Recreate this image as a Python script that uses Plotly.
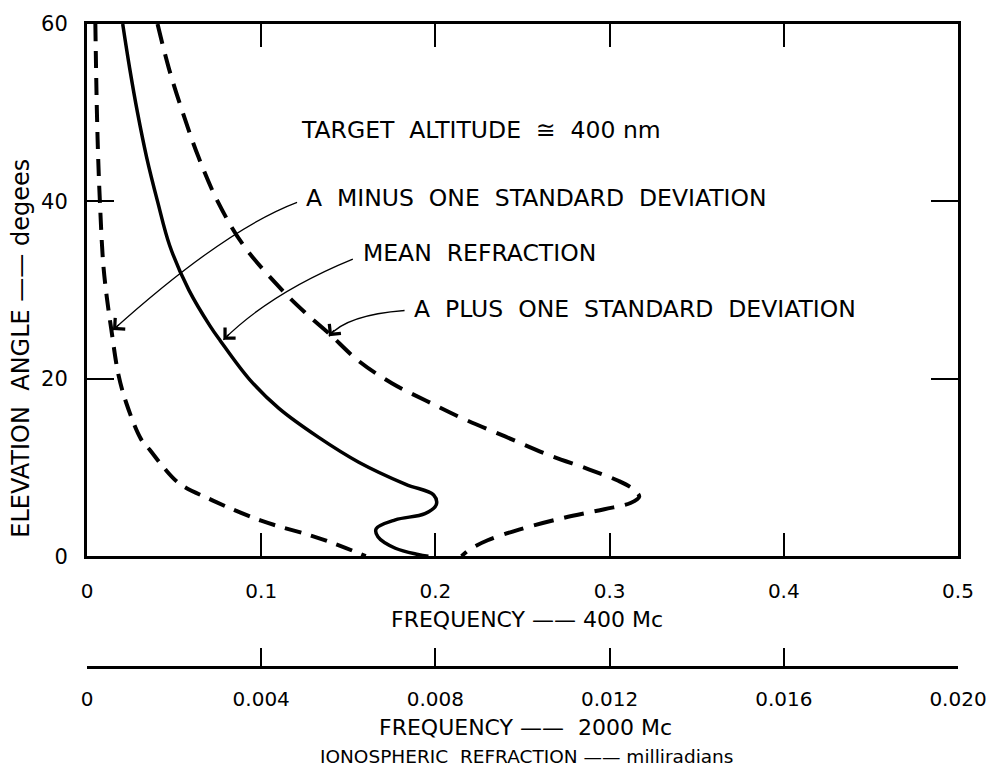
import plotly.graph_objects as go

# ---------------- data ----------------
# Mean refraction (solid), x = refraction at 400 Mc (mrad), y = elevation (deg)
mean_x = [0.0205, 0.0245, 0.0290, 0.0342, 0.0405, 0.0475, 0.0585, 0.0705, 0.0765, 0.093,
          0.110, 0.133, 0.156, 0.183, 0.199, 0.2005, 0.194, 0.177, 0.166, 0.167,
          0.177, 0.190, 0.196]
mean_y = [60, 55, 50, 45, 40, 35, 30, 26, 24.3, 20,
          16.7, 13.4, 10.6, 8.1, 6.9, 5.8, 4.8, 4.1, 3.1, 2.2,
          0.9, 0.2, 0]

# Mean plus one standard deviation (dashed, right)
plus_x = [0.0405, 0.047, 0.055, 0.064, 0.075, 0.090, 0.112, 0.125, 0.139, 0.156,
          0.175, 0.195, 0.216, 0.240, 0.264, 0.288, 0.305, 0.314, 0.317, 0.312,
          0.297, 0.273, 0.248, 0.230, 0.220, 0.215]
plus_y = [60, 55, 50, 45, 40, 35, 30, 27.5, 25.1, 22,
          19.5, 17.5, 15.5, 13.5, 11.5, 9.8, 8.5, 7.5, 6.7, 6.0,
          5.3, 4.3, 3.0, 1.8, 0.8, 0]

# Mean minus one standard deviation (dashed, left)
minus_x = [0.0048, 0.0052, 0.0057, 0.0064, 0.0074, 0.0093, 0.0115, 0.014, 0.018,
           0.0225, 0.031, 0.036, 0.044, 0.053, 0.072, 0.100, 0.129, 0.145, 0.160]
minus_y = [60, 55, 50, 45, 40, 33, 29, 25.5, 20.5,
           17.3, 13.2, 12.0, 10, 8.2, 6.3, 4.0, 2.3, 1.2, 0]

x1_ticks = [0, 0.1, 0.2, 0.3, 0.4, 0.5]
x1_labels = ["0", "0.1", "0.2", "0.3", "0.4", "0.5"]
x2_ticks = [0, 0.004, 0.008, 0.012, 0.016, 0.020]
x2_labels = ["0", "0.004", "0.008", "0.012", "0.016", "0.020"]
y_ticks = [0, 20, 40, 60]
y_labels = ["0", "20", "40", "60"]

SP = "\u00a0\u00a0"
label_title = "TARGET" + SP + "ALTITUDE" + SP + "\u2245" + SP + "400 nm"
label_minus = "A" + SP + "MINUS" + SP + "ONE" + SP + "STANDARD" + SP + "DEVIATION"
label_mean = "MEAN" + SP + "REFRACTION"
label_plus = "A" + SP + "PLUS" + SP + "ONE" + SP + "STANDARD" + SP + "DEVIATION"

# label anchors (data coords) and curved leader arrows: start, control, tip
labels = [
    (label_title, 0.1217, 48.1),
    (label_minus, 0.1246, 40.4),
    (label_mean, 0.1573, 34.2),
    (label_plus, 0.1863, 27.9),
]
arrows = [
    ((0.1206, 39.9), (0.0789, 36.8), (0.0149, 25.5)),
    ((0.1526, 33.5), (0.1054, 29.7), (0.0783, 24.4)),
    ((0.1823, 27.7), (0.1488, 27.2), (0.1389, 24.8)),
]

FONT = "DejaVu Sans"

fig = go.Figure()
fig.add_trace(go.Scatter(x=minus_x, y=minus_y, mode="lines",
                         line=dict(color="black", width=4, dash="17px,10px", shape="spline", smoothing=1.0),
                         hoverinfo="skip", showlegend=False))
fig.add_trace(go.Scatter(x=mean_x, y=mean_y, mode="lines",
                         line=dict(color="black", width=3.5, shape="spline", smoothing=1.0),
                         hoverinfo="skip", showlegend=False))
fig.add_trace(go.Scatter(x=plus_x, y=plus_y, mode="lines",
                         line=dict(color="black", width=4, dash="20px,11px", shape="spline", smoothing=1.0),
                         hoverinfo="skip", showlegend=False))
# invisible trace to activate the second x axis
fig.add_trace(go.Scatter(x=[x2_ticks[0], x2_ticks[-1]], y=[0, 0], xaxis="x2", mode="lines",
                         line=dict(color="rgba(0,0,0,0)"), hoverinfo="skip", showlegend=False))

# plot geometry in pixels
L, R, T, B = 87, 962, 17, 555
X2LINE = 667
W, H = 999, 775
px_per_x = (R - L) / 0.5
px_per_y = (B - T) / 60.0

for (text, lx, ly) in labels:
    fig.add_annotation(x=lx, y=ly, xref="x", yref="y", text=text, showarrow=False,
                       xanchor="left", yanchor="middle",
                       font=dict(family=FONT, size=23.5, color="black"))

for (p0, c, p2) in arrows:
    path = f"M {p0[0]},{p0[1]} Q {c[0]},{c[1]} {p2[0]},{p2[1]}"
    fig.add_shape(type="path", path=path, xref="x", yref="y",
                  line=dict(color="black", width=1.3))
    # arrowhead along the end tangent
    dxp = (p2[0] - c[0]) * px_per_x
    dyp = (p2[1] - c[1]) * px_per_y
    n = (dxp ** 2 + dyp ** 2) ** 0.5
    back = 10.0
    ax = p2[0] - dxp / n * back / px_per_x
    ay = p2[1] - dyp / n * back / px_per_y
    fig.add_annotation(x=p2[0], y=p2[1], ax=ax, ay=ay, xref="x", yref="y",
                       axref="x", ayref="y", text="", showarrow=True,
                       arrowhead=4, arrowsize=2.4, arrowwidth=1.2, arrowcolor="black", standoff=0)

paper_h = X2LINE - T
paper_w = R - L

def py(p):
    return (X2LINE - p) / paper_h

def pxx(p):
    return (p - L) / paper_w

fig.add_annotation(x=pxx(529), y=py(619), xref="paper", yref="paper",
                   xanchor="center", yanchor="middle",
                   text="FREQUENCY\u00a0\u2014\u2014\u00a0400\u00a0Mc", showarrow=False,
                   font=dict(family=FONT, size=22, color="black"))
fig.add_annotation(x=pxx(528), y=py(728), xref="paper", yref="paper",
                   xanchor="center", yanchor="middle",
                   text="FREQUENCY\u00a0\u2014\u2014\u00a0\u00a02000\u00a0Mc", showarrow=False,
                   font=dict(family=FONT, size=22, color="black"))
fig.add_annotation(x=pxx(529), y=py(757), xref="paper", yref="paper",
                   xanchor="center", yanchor="middle",
                   text="IONOSPHERIC\u00a0\u00a0REFRACTION\u00a0\u2014\u2014\u00a0milliradians", showarrow=False,
                   font=dict(family=FONT, size=18.5, color="black"))
fig.add_annotation(x=pxx(21), y=py(345), xref="paper", yref="paper", textangle=-90,
                   xanchor="center", yanchor="middle",
                   text="ELEVATION\u00a0\u00a0ANGLE\u00a0\u2014\u2014\u00a0degees", showarrow=False,
                   font=dict(family=FONT, size=24, color="black"))

fig.update_layout(
    width=W, height=H,
    margin=dict(l=L, r=W - R, t=T, b=H - X2LINE, pad=0),
    paper_bgcolor="white", plot_bgcolor="white",
    showlegend=False,
    xaxis=dict(range=[0, 0.5], tickvals=x1_ticks, ticktext=x1_labels,
               ticks="inside", ticklen=23, tickwidth=2, tickcolor="black",
               showline=True, linewidth=3, linecolor="black", mirror="ticks",
               showgrid=False, zeroline=False, anchor="y",
               ticklabelstandoff=15,
               tickfont=dict(family=FONT, size=20, color="black")),
    xaxis2=dict(range=[0, 0.020], tickvals=x2_ticks, ticktext=x2_labels,
                overlaying="x", anchor="free", position=0, side="bottom",
                ticks="inside", ticklen=18, tickwidth=2, tickcolor="black",
                showline=True, linewidth=3, linecolor="black",
                showgrid=False, zeroline=False,
                ticklabelstandoff=13,
                tickfont=dict(family=FONT, size=20, color="black")),
    yaxis=dict(range=[0, 60], tickvals=y_ticks, ticktext=y_labels,
               domain=[(X2LINE - B) / paper_h, 1],
               ticks="inside", ticklen=27, tickwidth=2, tickcolor="black",
               showline=True, linewidth=3, linecolor="black", mirror="ticks",
               showgrid=False, zeroline=False,
               ticklabelstandoff=12,
               tickfont=dict(family=FONT, size=21, color="black")),
)

fig.write_html("out.html")
